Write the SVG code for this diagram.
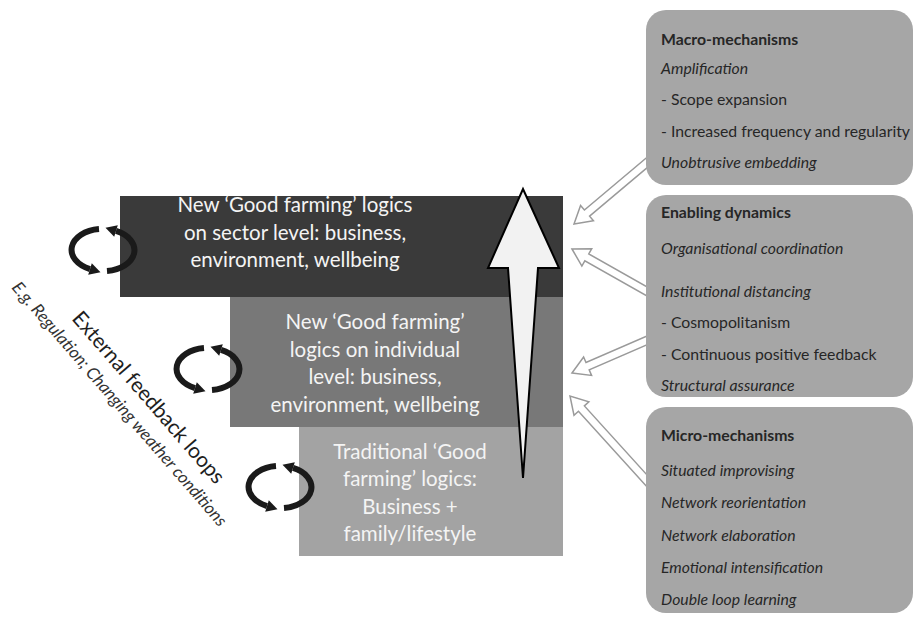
<svg xmlns="http://www.w3.org/2000/svg" width="914" height="619" viewBox="0 0 914 619">
  <defs>
    <style>
      .lvl { font-family: Lato, "Open Sans", "Liberation Sans", sans-serif; font-size: 20.5px; fill: #f4f4f4; text-anchor: middle; }
      .side { font-family: Lato, "Open Sans", "Liberation Sans", sans-serif; font-size: 15.8px; fill: #262626; }
      .side .h { font-weight: bold; }
      .side .i { font-style: italic; }
      .panel { fill: #a6a6a6; }
      .hollow { fill: #ffffff; stroke: #9a9a9a; stroke-width: 1.5; stroke-linejoin: miter; }
      .loopArc { fill: none; stroke: #1a1a1a; stroke-width: 6; }
      .loopHead { fill: #1a1a1a; }
    </style>
    <!-- hollow block arrow pointing along +x, tip at origin -->
    <polygon id="hollowArrow" points="0,0 -17,-10 -17,-4 -130,-4 -130,4 -17,4 -17,10"/>
    <!-- two-part circular feedback icon centred on origin -->
    <g id="loop">
      <g id="loopHalf">
        <path class="loopArc" d="M -4 -21 A 31 21 0 0 0 -13 19.06"/>
        <polygon class="loopHead" points="-2.5,22.3 -11.2,13.3 -14.8,24.8"/>
      </g>
      <use href="#loopHalf" transform="rotate(180)"/>
    </g>
  </defs>

  <rect width="914" height="619" fill="#ffffff"/>

  <!-- connectors: mechanism arrows pointing at the logic stack -->
  <g id="connectors">
    <use href="#hollowArrow" class="hollow" transform="translate(574,224) rotate(139.9)"/>
    <use href="#hollowArrow" class="hollow" transform="translate(572,249) rotate(209.5)"/>
    <use href="#hollowArrow" class="hollow" transform="translate(572,373) rotate(156.5)"/>
    <use href="#hollowArrow" class="hollow" transform="translate(570,396) rotate(227.8)"/>
  </g>

  <!-- stacked logic levels -->
  <g id="node-sector">
    <rect x="120" y="196" width="443" height="101" fill="#3a3a3a"/>
    <text class="lvl" x="295" y="212">New ‘Good farming’ logics</text>
    <text class="lvl" x="295" y="240">on sector level: business,</text>
    <text class="lvl" x="295" y="267">environment, wellbeing</text>
  </g>
  <g id="node-individual">
    <rect x="230" y="297" width="333" height="130" fill="#787878"/>
    <text class="lvl" x="375" y="329">New ‘Good farming’</text>
    <text class="lvl" x="375" y="357">logics on individual</text>
    <text class="lvl" x="375" y="384">level: business,</text>
    <text class="lvl" x="375" y="412">environment, wellbeing</text>
  </g>
  <g id="node-traditional">
    <rect x="299" y="427" width="264" height="129" fill="#a3a3a3"/>
    <text class="lvl" x="410" y="459">Traditional ‘Good</text>
    <text class="lvl" x="410" y="486">farming’ logics:</text>
    <text class="lvl" x="410" y="514">Business +</text>
    <text class="lvl" x="410" y="541">family/lifestyle</text>
  </g>

  <!-- upward development arrow -->
  <g id="rise-arrow">
    <polygon points="523,189 559,268 538,268 523,478 508,268 488,268" fill="#f2f2f2" stroke="#000000" stroke-width="2" stroke-linejoin="miter"/>
  </g>

  <!-- external feedback loop icons -->
  <g id="feedback-loops">
    <use href="#loop" transform="translate(103,250)"/>
    <use href="#loop" transform="translate(208,369)"/>
    <use href="#loop" transform="translate(280,487)"/>
  </g>

  <g id="feedback-label" font-family="Lato, 'Open Sans', 'Liberation Sans', sans-serif">
    <text transform="translate(71,319) rotate(49)" font-size="21" fill="#1e1e1e">External feedback loops</text>
    <text transform="translate(11,288) rotate(49)" font-size="17" font-style="italic" fill="#333333">E.g. Regulation; Changing weather conditions</text>
  </g>

  <!-- mechanism panels -->
  <g id="node-macro" class="side">
    <rect class="panel" x="646" y="10" width="267" height="175" rx="20"/>
    <text class="h" x="661" y="45">Macro-mechanisms</text>
    <text class="i" x="661" y="74">Amplification</text>
    <text x="661" y="105">- Scope expansion</text>
    <text x="661" y="137">- Increased frequency and regularity</text>
    <text class="i" x="661" y="168">Unobtrusive embedding</text>
  </g>
  <g id="node-enabling" class="side">
    <rect class="panel" x="646" y="195" width="267" height="202" rx="20"/>
    <text class="h" x="661" y="218">Enabling dynamics</text>
    <text class="i" x="661" y="254">Organisational coordination</text>
    <text class="i" x="661" y="297">Institutional distancing</text>
    <text x="661" y="328">- Cosmopolitanism</text>
    <text x="661" y="360">- Continuous positive feedback</text>
    <text class="i" x="661" y="391">Structural assurance</text>
  </g>
  <g id="node-micro" class="side">
    <rect class="panel" x="646" y="407" width="267" height="206" rx="20"/>
    <text class="h" x="661" y="441">Micro-mechanisms</text>
    <text class="i" x="661" y="476">Situated improvising</text>
    <text class="i" x="661" y="508">Network reorientation</text>
    <text class="i" x="661" y="541">Network elaboration</text>
    <text class="i" x="661" y="573">Emotional intensification</text>
    <text class="i" x="661" y="605">Double loop learning</text>
  </g>
</svg>
